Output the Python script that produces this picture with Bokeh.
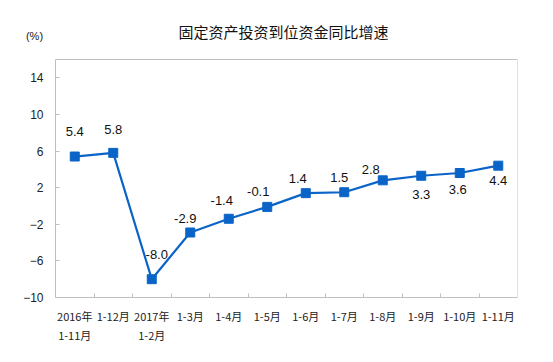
from bokeh.plotting import figure
from bokeh.models import ColumnDataSource, FixedTicker, Range1d, Label
from bokeh.core.properties import value
from bokeh.embed import file_html
from bokeh.resources import INLINE

categories = ["2016年\n1-11月", "1-12月", "2017年\n1-2月", "1-3月", "1-4月", "1-5月",
              "1-6月", "1-7月", "1-8月", "1-9月", "1-10月", "1-11月"]
values = [5.4, 5.8, -8.0, -2.9, -1.4, -0.1, 1.4, 1.5, 2.8, 3.3, 3.6, 4.4]
y_ticks = [-10, -6, -2, 2, 6, 10, 14]
y_min, y_max = -10, 16
title_text = "固定资产投资到位资金同比增速"
unit_text = "(%)"

# label placement styling (pixels, positive = up)
label_dx = [0, 0, 5, -5, -7, -9, -8, -5, -12, 0, -2, 0]
label_dy = [25, 23, 25, 14, 18, 15, 15, 15, 11, -19, -16, -15]

# layout (pixels)
W, H = 545, 354
box_left, box_right, box_top, box_bottom = 55, 517, 59, 297

n = len(categories)
band = (box_right - box_left) / n
ppu = (box_bottom - box_top) / (y_max - y_min)
xs = [i + 0.5 for i in range(n)]
src = ColumnDataSource(dict(x=xs, y=values, t=["%.1f" % v for v in values],
                            dx=label_dx, dy=[-d for d in label_dy]))

p = figure(width=W, height=H, output_backend="svg", toolbar_location=None,
           x_range=Range1d(-box_left / band, n),
           y_range=Range1d(y_min - (H - box_bottom) / ppu, y_max + box_top / ppu),
           min_border_left=0, min_border_right=W - box_right, min_border_top=0,
           min_border_bottom=0)
p.background_fill_color = "white"
p.border_fill_color = "white"
p.outline_line_color = None
p.xgrid.visible = False
p.ygrid.visible = False

# plot box
p.quad(left=[0], right=[n], bottom=[y_min], top=[y_max], fill_color=None,
       line_color="#bfbfbf", line_width=1)

ax = p.xaxis[0]
ax.fixed_location = y_min
ax.ticker = FixedTicker(ticks=xs, minor_ticks=list(range(1, n)))
ax.major_label_overrides = {x: c for x, c in zip(xs, categories)}
ax.major_tick_in = 0
ax.major_tick_out = 0
ax.minor_tick_in = 4
ax.minor_tick_out = 0
ax.minor_tick_line_color = "#bfbfbf"
ax.axis_line_color = None
ax.major_label_text_font = "Noto Sans CJK SC"
ax.major_label_text_font_size = "11px"
ax.major_label_text_color = "#222222"
ax.major_label_standoff = 10

ay = p.yaxis[0]
ay.fixed_location = 0
ay.ticker = FixedTicker(ticks=y_ticks)
ay.major_tick_in = 4
ay.major_tick_out = 0
ay.minor_tick_in = 0
ay.minor_tick_out = 0
ay.major_tick_line_color = "#bfbfbf"
ay.axis_line_color = None
ay.major_label_text_font = "Liberation Sans"
ay.major_label_text_font_size = "12px"
ay.major_label_text_color = "#222222"
ay.major_label_standoff = 12

blue = "#0a64c8"
p.line("x", "y", source=src, line_color=blue, line_width=2.2)
p.scatter("x", "y", source=src, marker="square", size=9, fill_color=blue, line_color=blue)
p.text("x", "y", text="t", source=src, x_offset="dx", y_offset="dy",
       text_align="center", text_baseline="middle",
       text_font=value("Liberation Sans"), text_font_size="13px", text_color="#111111")

p.add_layout(Label(x=283, y=H - 30.5, x_units="screen", y_units="screen",
                   text=title_text, text_font="Noto Sans CJK SC", text_font_size="15px",
                   text_color="#111111", text_align="center", text_baseline="middle"))
p.add_layout(Label(x=34, y=H - 35, x_units="screen", y_units="screen",
                   text=unit_text, text_font="Liberation Sans", text_font_size="11px",
                   text_color="#222222", text_align="center", text_baseline="middle"))

open("out.html", "w").write(file_html(p, INLINE))
